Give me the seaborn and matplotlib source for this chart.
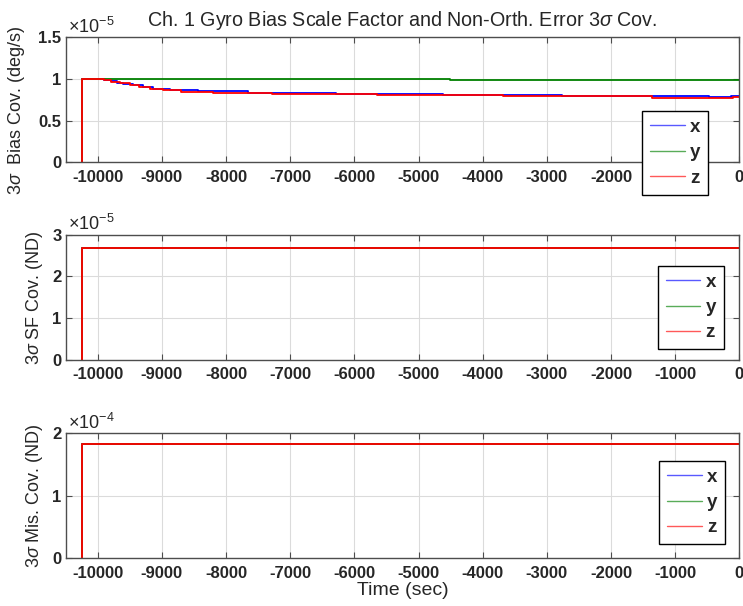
import numpy as np
import pandas as pd
import matplotlib
matplotlib.use("Agg")
import matplotlib.pyplot as plt
from matplotlib.lines import Line2D
from matplotlib.ticker import FixedLocator, FuncFormatter
import seaborn as sns

# ---- 3-sigma covariance histories (step-wise), time in seconds ----
axis_names = ["x", "y", "z"]
axis_colors = {"x": (0.0, 0.0, 1.0), "y": (0.0, 0.5, 0.0), "z": (1.0, 0.0, 0.0)}

# gyro bias covariance, units of 1e-5 deg/s
bias_scale = 1e-5
bias_x_t = [-10240, -10240, -10000, -9900, -9800, -9700, -9600, -9450, -9300, -9140,
            -8880, -8440, -7666, -6294, -4622, -2759, -473, -135, 0]
bias_x_v = [0.0, 1.0, 1.0, 0.985, 0.970, 0.955, 0.940, 0.922, 0.903, 0.885,
            0.866, 0.850, 0.834, 0.822, 0.808, 0.794, 0.781, 0.795, 0.795]
bias_y_t = [-10240, -10240, -4508, 0]
bias_y_v = [0.0, 1.0, 0.984, 0.984]
bias_z_t = [-10240, -10240, -10000, -9900, -9800, -9650, -9500, -9350, -9190, -8986,
            -8700, -8210, -7278, -5647, -3690, -1362, -93, 0]
bias_z_v = [0.0, 1.0, 1.0, 0.983, 0.966, 0.946, 0.926, 0.903, 0.882, 0.864,
            0.848, 0.832, 0.816, 0.802, 0.790, 0.772, 0.782, 0.782]

# scale-factor covariance, units of 1e-5 (non-dimensional)
sf_scale = 1e-5
sf_t = [-10240, -10240, 0]
sf_x_v = [0.0, 2.674, 2.674]
sf_y_v = [0.0, 2.674, 2.674]
sf_z_v = [0.0, 2.674, 2.674]

# misalignment covariance, units of 1e-4 (non-dimensional)
mis_scale = 1e-4
mis_t = [-10240, -10240, 0]
mis_x_v = [0.0, 1.824, 1.824]
mis_y_v = [0.0, 1.824, 1.824]
mis_z_v = [0.0, 1.824, 1.824]

time_ticks = list(range(-10000, 1, 1000))
bias_ticks = [0, 0.5, 1.0, 1.5]
sf_ticks = [0, 1, 2, 3]
mis_ticks = [0, 1, 2]


def long_frame(series, scale):
    rows = []
    for name, (t, v) in zip(axis_names, series):
        for ti, vi in zip(t, v):
            rows.append({"t": ti, "v": vi * scale, "axis": name})
    return pd.DataFrame(rows)


bias_df = long_frame([(bias_x_t, bias_x_v), (bias_y_t, bias_y_v), (bias_z_t, bias_z_v)], bias_scale)
sf_df = long_frame([(sf_t, sf_x_v), (sf_t, sf_y_v), (sf_t, sf_z_v)], sf_scale)
mis_df = long_frame([(mis_t, mis_x_v), (mis_t, mis_y_v), (mis_t, mis_z_v)], mis_scale)

sns.set_style("ticks")
plt.rcParams["font.family"] = ["Liberation Sans", "DejaVu Sans"]
plt.rcParams["mathtext.fontset"] = "custom"
plt.rcParams["mathtext.rm"] = "Liberation Sans"
plt.rcParams["mathtext.it"] = "Liberation Sans:italic"
plt.rcParams["mathtext.bf"] = "Liberation Sans:bold"

W, H = 743, 606
fig = plt.figure(figsize=(W / 100, H / 100), dpi=100)
left_px, right_px = 65.7, 739.3
rows_px = [(37.3, 162.3), (234.7, 359.7), (433.3, 558.3)]
axes = []
for top_px, bot_px in rows_px:
    axes.append(fig.add_axes([left_px / W, 1 - bot_px / H,
                              (right_px - left_px) / W, (bot_px - top_px) / H]))

panels = [
    (axes[0], bias_df, bias_scale, [0, 1.5], bias_ticks, r"3$\sigma$  Bias Cov. (deg/s)", "-5", (642.3, 111.0)),
    (axes[1], sf_df, sf_scale, [0, 3], sf_ticks, r"3$\sigma$ SF Cov. (ND)", "-5", (657.7, 265.7)),
    (axes[2], mis_df, mis_scale, [0, 2], mis_ticks, r"3$\sigma$ Mis. Cov. (ND)", "-4", (659.0, 460.7)),
]

ink = (0.15, 0.15, 0.15)
for ax, df, scale, ylim, yt, ylab, expo, leg_xy in panels:
    sns.lineplot(data=df, x="t", y="v", hue="axis", hue_order=axis_names,
                 palette=axis_colors, estimator=None, sort=False,
                 drawstyle="steps-post", linewidth=1.3, legend=False, ax=ax)
    ax.set_xlim(-10500, 0)
    ax.set_ylim(ylim[0] * scale, ylim[1] * scale)
    ax.xaxis.set_major_locator(FixedLocator(time_ticks))
    ax.xaxis.set_major_formatter(FuncFormatter(lambda v, p: f"{int(round(v))}"))
    ax.yaxis.set_major_locator(FixedLocator([y * scale for y in yt]))
    ax.yaxis.set_major_formatter(FuncFormatter(lambda v, p, s=scale: f"{v / s:g}"))
    ax.grid(True, color=(0.86, 0.86, 0.86), linewidth=0.8)
    ax.set_axisbelow(True)
    for sp in ax.spines.values():
        sp.set_color((0.3, 0.3, 0.3))
        sp.set_linewidth(1.0)
    ax.tick_params(axis="both", direction="in", top=True, right=True,
                   length=4.5, width=0.8, color=(0.3, 0.3, 0.3),
                   labelsize=12, labelcolor=ink)
    ax.tick_params(axis="x", pad=5.5)
    ax.tick_params(axis="y", pad=3)
    plt.setp(ax.get_xticklabels() + ax.get_yticklabels(), fontweight="bold")
    ax.set_xlabel("")
    ax.set_ylabel(ylab, fontsize=13, color=ink, labelpad=5)
    ax.text(0.004, 1.006, r"$\times\mathregular{10^{" + expo + r"}}$",
            transform=ax.transAxes, ha="left", va="bottom", fontsize=13, color=ink)

    handles = [Line2D([], [], color=axis_colors[n], lw=1.0, alpha=0.65) for n in axis_names]
    leg = ax.legend(handles, axis_names, loc="upper left",
                    bbox_to_anchor=(leg_xy[0] / W, 1 - leg_xy[1] / H),
                    bbox_transform=fig.transFigure, borderaxespad=0,
                    handlelength=1.85, handletextpad=0.28,
                    labelspacing=0.44, borderpad=0.42, frameon=True,
                    fancybox=False, framealpha=1.0, edgecolor="black",
                    prop={"weight": "bold", "size": 13.5})
    leg.get_frame().set_linewidth(1.0)
    leg.set_zorder(10)

# the long bias label sits a little lower than the panel centre
axes[0].yaxis.set_label_coords(-0.0575, 0.42)

axes[0].set_title(r"Ch. 1 Gyro Bias Scale Factor and Non-Orth. Error 3$\sigma$ Cov.",
                  fontsize=14.2, color=ink, pad=8)
axes[2].set_xlabel("Time (sec)", fontsize=14, color=ink, labelpad=1)

fig.savefig("out.png", dpi=100)
